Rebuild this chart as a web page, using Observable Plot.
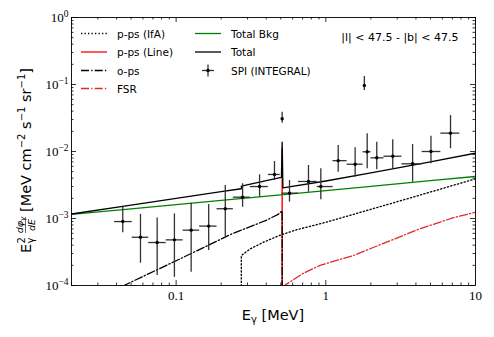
<!DOCTYPE html>
<html><head><meta charset="utf-8">
<script src="https://cdn.jsdelivr.net/npm/d3@7"></script>
<script src="https://cdn.jsdelivr.net/npm/@observablehq/plot@0.6"></script>
<style>body{margin:0;background:#fff}#chart{width:494px;height:337px}</style>
</head><body><div id="chart"></div>
<script>
// SPI (INTEGRAL) data points
const spiE   = [0.044,0.0578,0.0747,0.0974,0.126,0.165,0.213,0.278,0.361,0.454,0.511,0.572,0.766,0.926,1.21,1.57,1.809,1.89,2.19,2.8,3.8,5.04,6.81];
const spiElo = [0.0388,0.0509,0.0656,0.0858,0.1113,0.1436,0.1876,0.241,0.313,0.413,0.508,0.509,0.657,0.875,1.118,1.387,1.79,1.773,2.005,2.446,3.225,4.4,5.87];
const spiEhi = [0.0509,0.0656,0.0858,0.1113,0.1436,0.1876,0.241,0.313,0.413,0.496,0.514,0.657,0.875,1.118,1.387,1.773,1.83,2.005,2.446,3.225,4.4,5.87,7.86];
const spiV   = [9.0e-4,5.25e-4,4.38e-4,4.8e-4,6.7e-4,7.7e-4,1.4e-3,2.08e-3,3.0e-3,4.54e-3,3.08e-2,2.39e-3,3.57e-3,3.0e-3,7.3e-3,6.46e-3,9.67e-2,9.9e-3,8.05e-3,8.5e-3,6.55e-3,1.0e-2,1.88e-2];
const spiVlo = [6.12e-4,2.15e-4,1.41e-4,1.32e-4,1.58e-4,3.33e-4,5.39e-4,1.47e-3,2.08e-3,3.69e-3,2.64e-2,1.75e-3,2.47e-3,1.9e-3,4.91e-3,4.13e-3,8.13e-2,5.52e-3,5.33e-3,5.52e-3,3.48e-3,6.55e-3,1.1e-2];
const spiVhi = [1.47e-3,1.15e-3,1.02e-3,1.17e-3,1.69e-3,1.62e-3,3.11e-3,3.3e-3,4.49e-3,7.1e-3,3.86e-2,3.69e-3,6.18e-3,5.52e-3,1.23e-2,1.14e-2,0.1316,1.84e-2,1.38e-2,1.5e-2,1.27e-2,1.69e-2,3.44e-2];

// model curves
const bkgE = [0.02,0.05,0.1,0.2,0.5,1,2,5,10];
const bkgV = [1.15e-3,1.39e-3,1.61e-3,1.86e-3,2.26e-3,2.61e-3,3.02e-3,3.67e-3,4.24e-3];
const totE = [0.02,0.05,0.1,0.2,0.2725,0.273,0.4,0.505,0.511,0.517,1,2,5,10];
const totV = [1.167e-3,1.585e-3,2.0e-3,2.51e-3,2.78e-3,3.04e-3,3.68e-3,4.1e-3,1.38e-2,2.87e-3,3.63e-3,4.8e-3,7.02e-3,9.44e-3];
const opsE = [0.03,0.0448,0.1,0.236,0.404,0.48,0.505,0.5105,0.511];
const opsV = [6.5e-5,1.0e-4,2.34e-4,5.9e-4,9.5e-4,1.15e-3,1.27e-3,1.3e-3,1e-5];
const ifaE = [0.2723,0.2725,0.313,0.384,0.491,0.64,1,3,10];
const ifaV = [1e-5,2.8e-4,3.53e-4,4.43e-4,5.6e-4,6.8e-4,8.77e-4,1.78e-3,3.91e-3];
const lineE = [0.5107,0.511,0.5113];
const lineV = [1e-5,1.1e-2,1e-5];
const fsrE = [0.511,0.7,0.916,1.53,2.54,4.24,7.04,10];
const fsrV = [9.5e-5,1.5e-4,2.0e-4,2.8e-4,4.43e-4,7.0e-4,1.02e-3,1.24e-3];

// tick values
const xMajor = [0.1,1,10];
const xMinor = [0.02,0.03,0.04,0.05,0.06,0.07,0.08,0.09,0.2,0.3,0.4,0.5,0.6,0.7,0.8,0.9,2,3,4,5,6,7,8,9];
const yMajor = [1e-4,1e-3,1e-2,1e-1,1];
const yMinor = [];
for (const d of [1e-4,1e-3,1e-2,1e-1]) for (const m of [2,3,4,5,6,7,8,9]) yMinor.push(+(d*m).toPrecision(3));

const legendItems = ["p-ps (IfA)","p-ps (Line)","o-ps","FSR","Total Bkg","Total","SPI (INTEGRAL)"];
const regionLabel = "|l| < 47.5 - |b| < 47.5";

const W=494,H=337,mL=71,mR=19,mT=17,mB=52;
const fw=W-mL-mR, fh=H-mT-mB;
const toRows = (xs,ys)=>xs.map((x,i)=>({x,y:ys[i]}));
const spi = spiE.map((e,i)=>({e,elo:spiElo[i],ehi:spiEhi[i],v:spiV[i],vlo:spiVlo[i],vhi:spiVhi[i]}));
const DOT="1.3,2.2", DASHDOT="8,2.2,1.3,2.2";
const tk = {stroke:"#000",strokeWidth:0.8};

const svg = Plot.plot({
  width:W,height:H,marginLeft:mL,marginRight:mR,marginTop:mT,marginBottom:mB,
  x:{type:"log",domain:[0.02,10]},
  y:{type:"log",domain:[1e-4,1]},
  style:{fontFamily:"'DejaVu Sans'",background:"white",color:"#000"},
  marks:[
    Plot.line(toRows(fsrE,fsrV),{x:"x",y:"y",stroke:"#dd2a2a",strokeWidth:1.3,strokeDasharray:DASHDOT,clip:true}),
    Plot.line(toRows(lineE,lineV),{x:"x",y:"y",stroke:"#ff0000",strokeWidth:1.4,clip:true}),
    Plot.line(toRows(ifaE,ifaV),{x:"x",y:"y",stroke:"#000",strokeWidth:1.3,strokeDasharray:DOT,clip:true}),
    Plot.line(toRows(opsE,opsV),{x:"x",y:"y",stroke:"#000",strokeWidth:1.3,strokeDasharray:DASHDOT,clip:true}),
    Plot.line(toRows(bkgE,bkgV),{x:"x",y:"y",stroke:"#008000",strokeWidth:1.3,clip:true}),
    Plot.line(toRows(totE,totV),{x:"x",y:"y",stroke:"#000",strokeWidth:1.3,clip:true}),
    Plot.ruleX(spi,{x:"e",y1:"vlo",y2:"vhi",stroke:"#333",strokeWidth:1.3,clip:true}),
    Plot.ruleY(spi,{y:"v",x1:"elo",x2:"ehi",stroke:"#333",strokeWidth:1.3,clip:true}),
    Plot.dot(spi,{x:"e",y:"v",r:1.7,fill:"#000",stroke:null}),
    Plot.ruleX(xMajor,{x:d=>d,insetTop:fh-5,...tk}),
    Plot.ruleX(xMajor,{x:d=>d,insetBottom:fh-5,...tk}),
    Plot.ruleX(xMinor,{x:d=>d,insetTop:fh-2.5,...tk}),
    Plot.ruleX(xMinor,{x:d=>d,insetBottom:fh-2.5,...tk}),
    Plot.ruleY(yMajor,{y:d=>d,insetRight:fw-5,...tk}),
    Plot.ruleY(yMajor,{y:d=>d,insetLeft:fw-5,...tk}),
    Plot.ruleY(yMinor,{y:d=>d,insetRight:fw-2.5,...tk}),
    Plot.ruleY(yMinor,{y:d=>d,insetLeft:fw-2.5,...tk}),
    Plot.frame({stroke:"#000",strokeWidth:0.9}),
    Plot.axisX(xMajor,{tickSize:0,tickPadding:5,label:null,fontSize:13,fontFamily:"'Liberation Serif'",tickFormat:d=>d<1?"0.1":String(d)}),
    Plot.axisY(yMajor,{tickSize:0,tickPadding:3,label:null,fontSize:13,fontFamily:"'Liberation Serif'",tickFormat:d=>String(Math.round(Math.log10(d)))}),
    Plot.text([regionLabel],{text:d=>d,frameAnchor:"top-right",dx:-17,dy:16,fontSize:11,textAnchor:"end"})
  ]
});
document.getElementById("chart").appendChild(svg);
const S = d3.select(svg);
// superscripted y tick labels
S.selectAll('g[aria-label="y-axis tick label"] text').each(function(){
  const e = parseInt(this.textContent.replace("\u2212","-"));
  const t = d3.select(this); t.text("10");
  t.append("tspan").attr("dy","-0.5em").attr("font-size","9.5px").text(e<0?"\u2212"+(-e):String(e));
});
// x label
const xl = S.append("text").attr("x",273).attr("y",320).attr("text-anchor","middle").attr("font-size","14.5px").attr("font-family","'DejaVu Sans'");
xl.append("tspan").text("E");
xl.append("tspan").attr("dy","3").attr("font-size","10px").text("\u03b3");
xl.append("tspan").attr("dy","-3").text(" [MeV]");
// y label (rotated)
const g = S.append("g").attr("transform","translate(31,253) rotate(-90)").attr("font-family","'DejaVu Sans'").attr("text-anchor","start");
g.append("text").attr("x",0).attr("y",0).attr("font-size","14.5px").text("E");
g.append("text").attr("x",9.5).attr("y",-6).attr("font-size","10px").text("2");
g.append("text").attr("x",9.5).attr("y",3).attr("font-size","10px").text("\u03b3");
const fn = g.append("text").attr("x",28).attr("y",-8).attr("font-size","9.5px").attr("font-style","italic").attr("text-anchor","middle");
fn.append("tspan").text("d\u03c6");
fn.append("tspan").attr("font-size","7px").attr("dy","2").text("\u03b3");
g.append("line").attr("x1",20).attr("x2",36).attr("y1",-5.5).attr("y2",-5.5).attr("stroke","#000").attr("stroke-width",0.6);
g.append("text").attr("x",28).attr("y",3.5).attr("font-size","9.5px").attr("font-style","italic").attr("text-anchor","middle").text("dE");
const yl = g.append("text").attr("x",41).attr("y",0).attr("font-size","14.5px");
yl.append("tspan").text("[MeV cm");
yl.append("tspan").attr("dy","-6").attr("font-size","10px").text("\u22122");
yl.append("tspan").attr("dy","6").text(" s");
yl.append("tspan").attr("dy","-6").attr("font-size","10px").text("\u22121");
yl.append("tspan").attr("dy","6").text(" sr");
yl.append("tspan").attr("dy","-6").attr("font-size","10px").text("\u22121");
yl.append("tspan").attr("dy","6").text("]");
// legend
const L = S.append("g").attr("font-family","'DejaVu Sans'").attr("font-size","10.5px").attr("text-anchor","start");
const styles = [
  {c:"#000",d:DOT},{c:"#ff0000",d:null},{c:"#000",d:DASHDOT},{c:"#dd2a2a",d:DASHDOT},
  {c:"#008000",d:null},{c:"#000",d:null},{c:null}
];
const rowsY=[33.5,52,70.5,88.5];
legendItems.forEach((name,i)=>{
  const col = i<4?0:1, row = i<4?i:i-4;
  const x0 = col? 195:81, y = rowsY[row];
  const st = styles[i];
  if (st.c) {
    L.append("line").attr("x1",x0).attr("x2",x0+26).attr("y1",y).attr("y2",y)
     .attr("stroke",st.c).attr("stroke-width",1.3).attr("stroke-dasharray",st.d);
  } else {
    const cx=x0+13;
    L.append("line").attr("x1",cx).attr("x2",cx).attr("y1",y-6).attr("y2",y+6).attr("stroke","#333").attr("stroke-width",1.3);
    L.append("line").attr("x1",cx-6).attr("x2",cx+6).attr("y1",y).attr("y2",y).attr("stroke","#333").attr("stroke-width",1.3);
    L.append("circle").attr("cx",cx).attr("cy",y).attr("r",1.7).attr("fill","#000");
  }
  L.append("text").attr("x",x0+36).attr("y",y+4).text(name);
});
</script></body></html>
